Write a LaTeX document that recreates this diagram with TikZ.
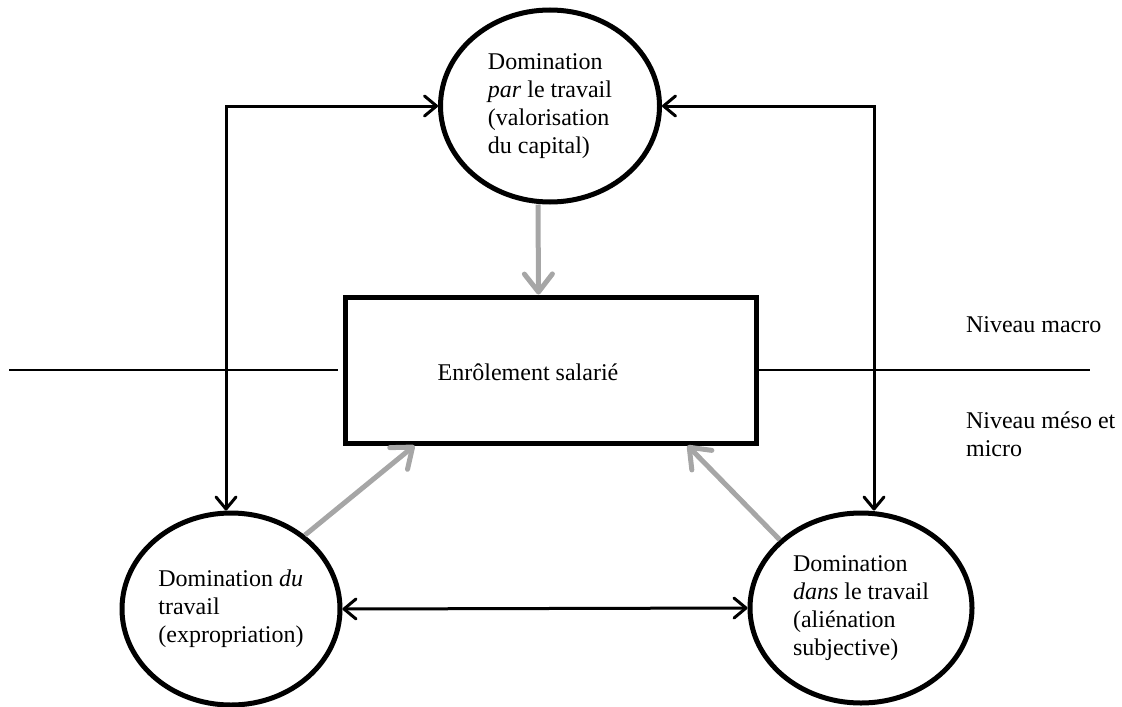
\documentclass[tikz,border=0pt]{standalone}
\usepackage{fontspec}
\setmainfont{Liberation Serif}
\usetikzlibrary{arrows.meta,shapes.geometric}
\definecolor{flowgray}{HTML}{A6A6A6}
\tikzset{
  dombubble/.style={draw,shape=ellipse,line width=2.5pt,align=left,inner sep=0pt},
  enrolbox/.style={draw,shape=rectangle,line width=2.5pt},
  twoway/.style={line width=1.5pt,>={Straight Barb[length=6pt,width=10pt,round]},<->},
  grayflow/.style={line width=2.5pt,flowgray,>={Straight Barb[length=9pt,width=14pt,round]},->},
  levelline/.style={line width=0.9pt}
}
\begin{document}
\begin{tikzpicture}[x=0.5pt,y=-0.5pt,font=\fontsize{12}{14}\selectfont]
\useasboundingbox (0,0) rectangle (1122,706);
\node [dombubble,name=par,minimum width=109.5pt,minimum height=96pt] at (550,106) {Domination\\\textit{par} le travail\\(valorisation\\du capital)};
\node [dombubble,name=du,minimum width=109pt,minimum height=96pt] at (231,609) {Domination \textit{du}\\travail\\(expropriation)};
\node [dombubble,name=dans,minimum width=111pt,minimum height=95pt] at (861,608) {Domination\\\textit{dans} le travail\\(aliénation\\subjective)};
\node [enrolbox,name=enrol,minimum width=205.5pt,minimum height=73pt] at (550.5,370) {};
\node [name=enroltext] at (528,372) {Enrôlement salarié};
\node [anchor=west,name=macro] at (959,325) {Niveau macro};
\node [anchor=west,align=left,name=meso] at (959,434) {Niveau méso et\\micro};
\coordinate (tl) at (226,106);
\coordinate (tr) at (874,106);
\coordinate (cutl) at (9,370);
\coordinate (cutr) at (1090,370);
% niveaux
\draw[levelline,shorten >=2.5pt] (cutl)--(enrol.west);
\draw[levelline] (enrol.east)--(cutr);
% liens noirs
\draw[twoway] (par.west)--(tl)--(tl |- du.north);
\draw[twoway] (par.east)--(tr)--(tr |- dans.north);
\draw[twoway] (du.east)--(dans.west);
% fleches grises
\draw[grayflow] ([xshift=-6pt]par.south)--([xshift=-6pt]enrol.north);
\draw[grayflow] (du.45)--([xshift=36pt]enrol.south west);
\draw[grayflow] (dans.140)--([xshift=-35.5pt]enrol.south east);
\end{tikzpicture}
\end{document}
